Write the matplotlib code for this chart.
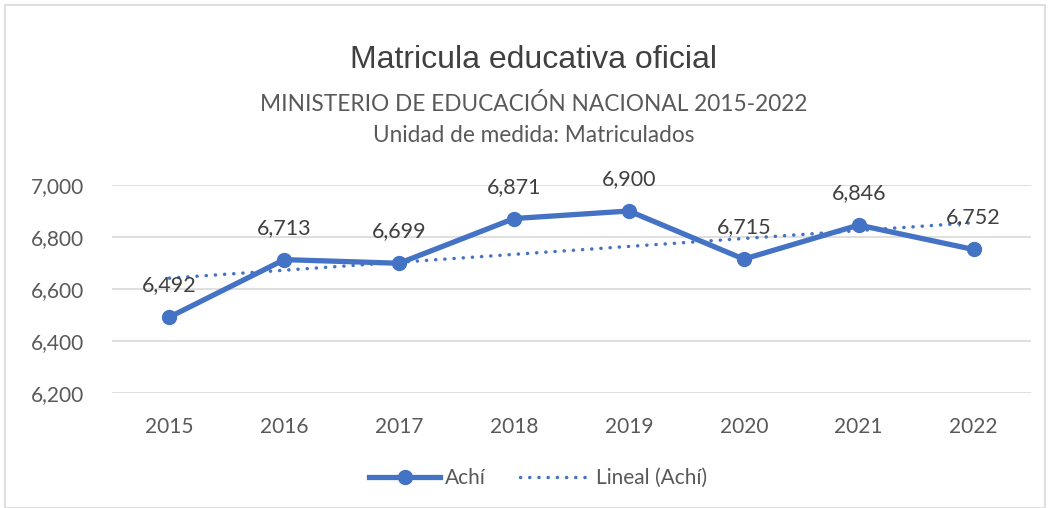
import numpy as np
import matplotlib.pyplot as plt
from matplotlib.patches import Rectangle
from matplotlib.lines import Line2D

anios = ['2015', '2016', '2017', '2018', '2019', '2020', '2021', '2022']
matriculados = [6492, 6713, 6699, 6871, 6900, 6715, 6846, 6752]
y_ticks = [6200, 6400, 6600, 6800, 7000]

azul = '#4472C4'
gris = '#595959'
punteado = (0, (0.05, 2.6))

x = np.arange(len(anios))
pendiente, corte = np.polyfit(x, matriculados, 1)
tendencia = pendiente * x + corte

fig = plt.figure(figsize=(10.5, 5.08), dpi=100)
ax = fig.add_axes([112 / 1050, 115 / 508, (1031 - 112) / 1050, (393 - 185) / 508])

ax.plot(x, tendencia, color=azul, lw=2.5, linestyle=punteado,
        dash_capstyle='round', zorder=2)
ax.plot(x, matriculados, color=azul, lw=3.8, marker='o', markersize=10,
        solid_joinstyle='round', zorder=3)

for xi, v in zip(x, matriculados):
    ax.annotate(f'{v:,}', (xi, v), xytext=(0, 23), textcoords='offset points',
                ha='center', va='center', fontsize=15.5, color='#404040',
                family='Lato', zorder=4)

ax.set_xlim(-0.5, len(anios) - 0.5)
ax.set_ylim(6200, 7000)
ax.set_xticks(x)
ax.set_xticklabels(anios)
ax.set_yticks(y_ticks)
ax.set_yticklabels([f'{t:,}' for t in y_ticks])
ax.tick_params(axis='both', length=0, labelsize=15, labelcolor=gris)
ax.tick_params(axis='y', pad=20)
ax.tick_params(axis='x', pad=17)
for lab in ax.get_xticklabels() + ax.get_yticklabels():
    lab.set_family('Lato')
ax.yaxis.grid(True, color='#d9d9d9', lw=1.2)
ax.set_axisbelow(True)
for s in ax.spines.values():
    s.set_visible(False)

fig.text(534 / 1050, 1 - 60 / 508, 'Matricula educativa oficial', ha='center', va='center',
         fontsize=23, color='#404040', family='Liberation Sans')
fig.text(534 / 1050, 1 - 104 / 508, 'MINISTERIO DE EDUCACIÓN NACIONAL 2015-2022', ha='center',
         va='center', fontsize=16.3, color=gris, family='Lato')
fig.text(534 / 1050, 1 - 136 / 508, 'Unidad de medida: Matriculados', ha='center',
         va='center', fontsize=16.3, color=gris, family='Lato')

handles = [
    Line2D([], [], color=azul, lw=3.8, marker='o', markersize=10),
    Line2D([], [], color=azul, lw=2.5, linestyle=punteado, dash_capstyle='round'),
]
fig.legend(handles, ['Achí', 'Lineal (Achí)'], loc='center', bbox_to_anchor=(538 / 1050, 1 - 478 / 508),
           ncol=2, frameon=False, prop={'family': 'Lato', 'size': 15}, labelcolor=gris,
           handlelength=3.4, columnspacing=1.6, handletextpad=0.25)

fig.add_artist(Rectangle((5 / 1050, 0), 1040 / 1050, 503 / 508, transform=fig.transFigure,
                         fill=False, edgecolor='#d9d9d9', lw=1.2))

fig.savefig('out.png', dpi=100)
